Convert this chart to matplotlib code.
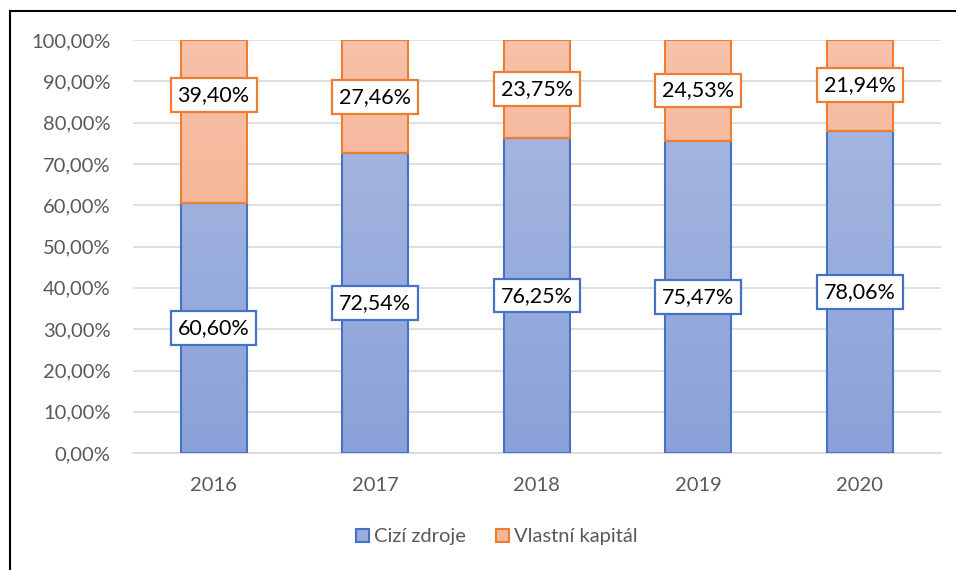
import numpy as np
import matplotlib
matplotlib.use("Agg")
import matplotlib.pyplot as plt
from matplotlib.colors import LinearSegmentedColormap
from matplotlib.ticker import FuncFormatter
from matplotlib.lines import Line2D

# --- Data ---
years = ["2016", "2017", "2018", "2019", "2020"]
cizi_zdroje = [60.60, 72.54, 76.25, 75.47, 78.06]
vlastni_kapital = [39.40, 27.46, 23.75, 24.53, 21.94]
series_names = ["Cizí zdroje", "Vlastní kapitál"]

plt.rcParams["font.family"] = ["Lato", "DejaVu Sans"]

blue_edge, orange_edge = "#4472c4", "#ed7d31"
blue_grad = LinearSegmentedColormap.from_list("b", ["#8aa2d9", "#abbae1"])
orange_grad = LinearSegmentedColormap.from_list("o", ["#f4a684", "#f7c2a9"])

fig = plt.figure(figsize=(9.56, 5.7), dpi=100)
ax = fig.add_axes([0.139, 0.205, 0.845, 0.725])

x = np.arange(len(years))
width = 0.41


def gradient_bar(ax, xc, bottom, height, cmap, edge):
    bar = ax.bar(xc, height, width, bottom=bottom, color="none",
                 edgecolor=edge, linewidth=1.5, zorder=3)[0]
    grad = np.linspace(0, 1, 256).reshape(-1, 1)
    # gradient runs over the full 0..100 axis, so both stacks share one ramp
    img = ax.imshow(grad, cmap=cmap, aspect="auto", origin="lower",
                    extent=(xc - width / 2, xc + width / 2, 0, 100), zorder=2)
    img.set_clip_path(bar)
    return bar


for i in range(len(years)):
    gradient_bar(ax, x[i], 0, cizi_zdroje[i], blue_grad, blue_edge)
    gradient_bar(ax, x[i], cizi_zdroje[i], vlastni_kapital[i], orange_grad, orange_edge)

# data labels (2016 equity label was nudged up in the original)
nudge = [6.4, 0, 0, 0, 0]
fmt = lambda v: f"{v:.2f}%".replace(".", ",")
for i in range(len(years)):
    ax.text(x[i], cizi_zdroje[i] / 2, fmt(cizi_zdroje[i]), ha="center", va="center",
            fontsize=15.5, color="black", zorder=5,
            bbox=dict(boxstyle="square,pad=0.32", fc="white", ec=blue_edge, lw=1.6))
    ax.text(x[i], cizi_zdroje[i] + vlastni_kapital[i] / 2 + nudge[i], fmt(vlastni_kapital[i]),
            ha="center", va="center", fontsize=15.5, color="black", zorder=5,
            bbox=dict(boxstyle="square,pad=0.32", fc="white", ec=orange_edge, lw=1.6))

ax.set_xlim(-0.5, len(years) - 0.5)
ax.set_ylim(0, 100)
ax.set_yticks(np.arange(0, 101, 10))
ax.yaxis.set_major_formatter(FuncFormatter(lambda v, p: f"{v:.2f}%".replace(".", ",")))
ax.set_xticks(x)
ax.set_xticklabels(years)
ax.tick_params(axis="both", length=0, labelsize=14.5, colors="#595959")
ax.tick_params(axis="x", pad=17)
ax.tick_params(axis="y", pad=16)
ax.grid(axis="y", color="#d9d9d9", linewidth=1.2, zorder=0)
ax.set_axisbelow(True)
for s in ["top", "right", "left"]:
    ax.spines[s].set_visible(False)
ax.spines["bottom"].set_color("#d9d9d9")
ax.spines["bottom"].set_linewidth(1.2)

handles = [
    plt.Rectangle((0, 0), 1, 1, fc="#9aaedd", ec=blue_edge, lw=1.5),
    plt.Rectangle((0, 0), 1, 1, fc="#f6b596", ec=orange_edge, lw=1.5),
]
fig.legend(handles, series_names, loc="center", bbox_to_anchor=(0.52, 0.058), ncol=2,
           frameon=False, fontsize=14.5, labelcolor="#595959", handlelength=0.65,
           handleheight=0.65, handletextpad=0.25, columnspacing=1.5)

# outer chart border (left and top edges visible)
fig.add_artist(Line2D([9.5 / 956, 9.5 / 956], [0, 1 - 11 / 570], color="black", lw=1.5,
                      transform=fig.transFigure))
fig.add_artist(Line2D([9.5 / 956, 1], [1 - 11 / 570, 1 - 11 / 570], color="black", lw=1.5,
                      transform=fig.transFigure))

fig.savefig("out.png", dpi=100)
